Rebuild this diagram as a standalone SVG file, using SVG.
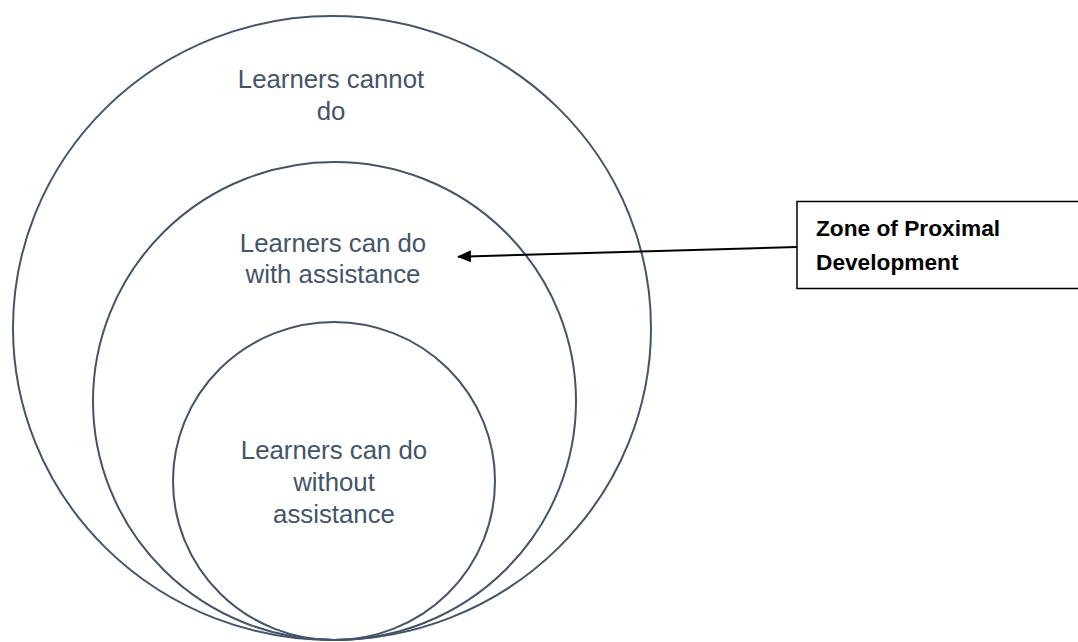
<svg xmlns="http://www.w3.org/2000/svg" width="1078" height="642" viewBox="0 0 1078 642">
<style>
.zone{fill:none;stroke:#44546A;stroke-width:2}
.lbl{font-family:"Liberation Sans",Arial,sans-serif;font-size:25.8px;fill:#44546A;text-anchor:middle}
.box{fill:#fff;stroke:#000;stroke-width:1.5}
.btxt{font-family:"Liberation Sans",Arial,sans-serif;font-size:22.7px;font-weight:bold;fill:#000}
</style>
<defs>
<marker id="ah" markerWidth="14" markerHeight="12" refX="13" refY="6" orient="auto" markerUnits="userSpaceOnUse">
<path d="M0,0 L14,6 L0,12 Z" fill="#000"/>
</marker>
</defs>
<rect width="1078" height="642" fill="#fff"/>
<g id="outer">
<ellipse class="zone" cx="332" cy="328" rx="319" ry="312"/>
<text class="lbl" x="331" y="88">Learners cannot</text>
<text class="lbl" x="331" y="120">do</text>
</g>
<g id="middle">
<ellipse class="zone" cx="334.5" cy="401" rx="241.5" ry="239"/>
<text class="lbl" x="333" y="252">Learners can do</text>
<text class="lbl" x="333" y="283">with assistance</text>
</g>
<g id="inner">
<ellipse class="zone" cx="334" cy="481" rx="161" ry="159"/>
<text class="lbl" x="334" y="459">Learners can do</text>
<text class="lbl" x="334" y="491">without</text>
<text class="lbl" x="334" y="523">assistance</text>
</g>
<g id="zpd">
<rect class="box" x="797" y="201.5" width="290" height="87"/>
<text class="btxt" x="816" y="236">Zone of Proximal</text>
<text class="btxt" x="816" y="270">Development</text>
</g>
<g id="connectors">
<line x1="797" y1="247" x2="458" y2="256.7" stroke="#000" stroke-width="2" marker-end="url(#ah)"/>
</g>
</svg>
